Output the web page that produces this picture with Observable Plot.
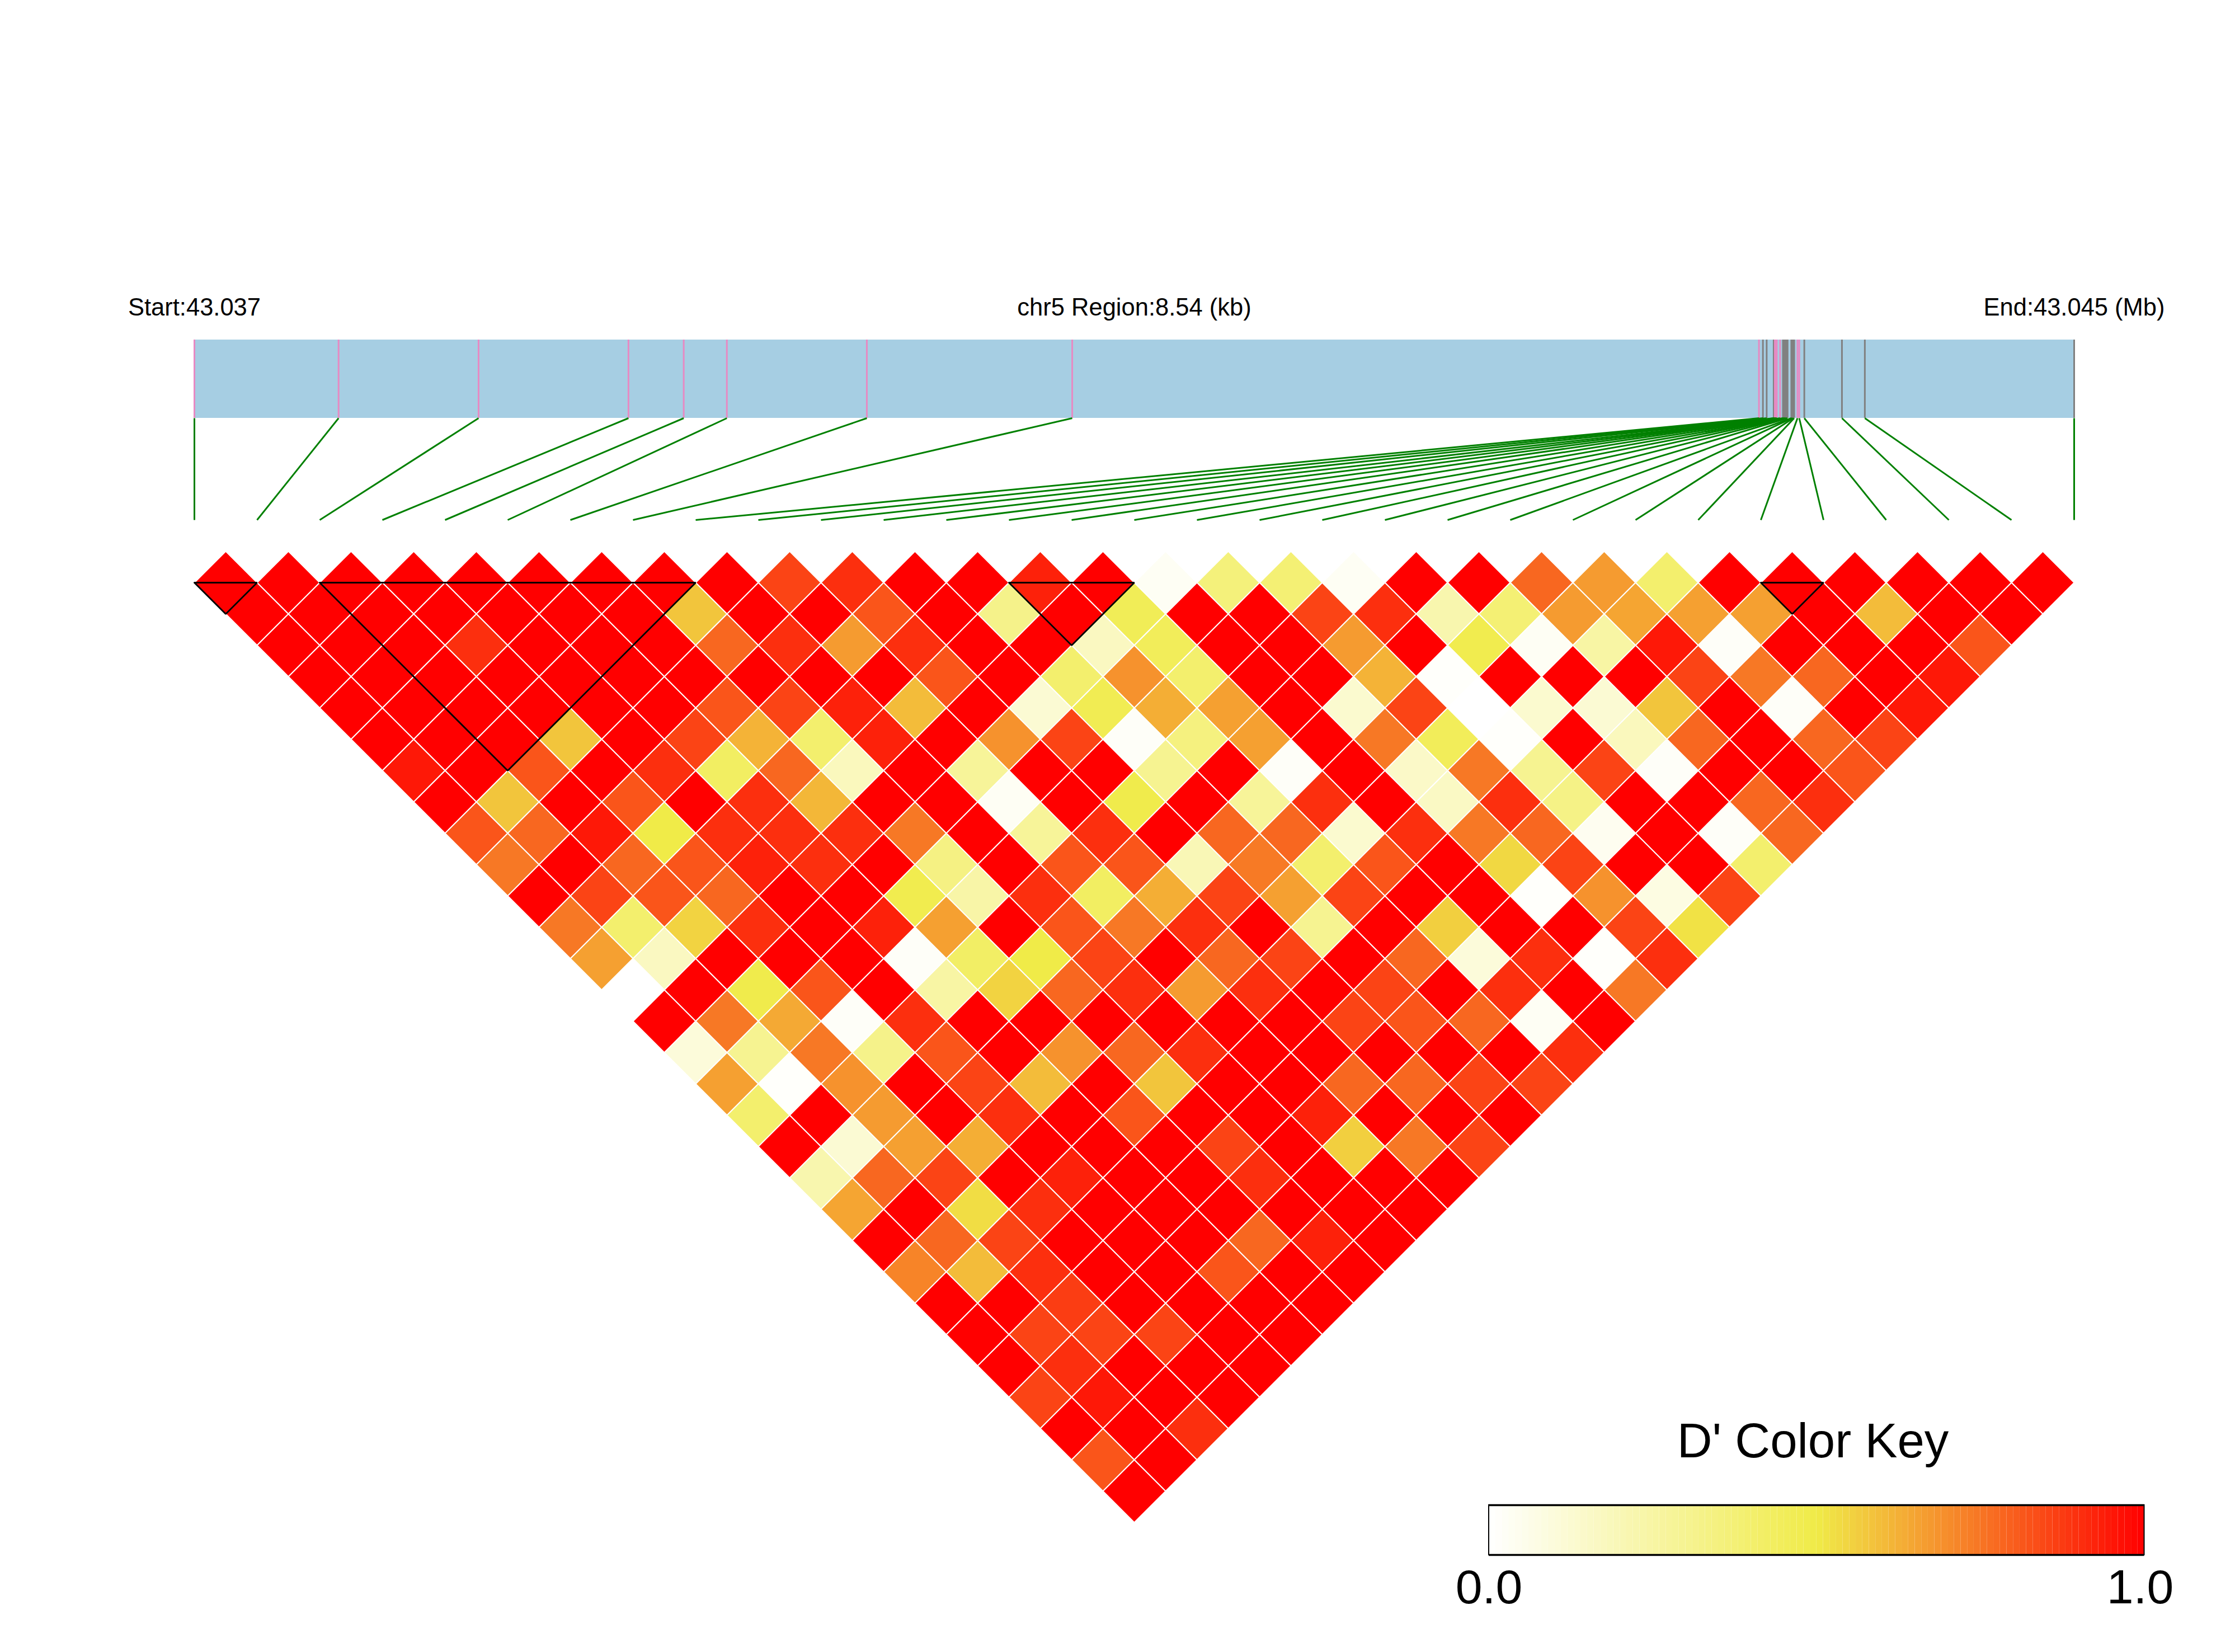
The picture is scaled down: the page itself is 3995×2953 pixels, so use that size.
<!DOCTYPE html>
<html>
<head>
<meta charset="utf-8">
<script src="https://cdn.jsdelivr.net/npm/d3@7/dist/d3.min.js"></script>
<script src="https://cdn.jsdelivr.net/npm/@observablehq/plot@0.6/dist/plot.umd.min.js"></script>
<style>
html,body{margin:0;padding:0;background:#fff;}
svg{display:block;}
</style>
</head>
<body>
<div id="chart"></div>
<script>
// SNP positions along the region, in kb from the start
const regionKb = 8.54;
const snpKb = [0,0.655,1.291,1.972,2.223,2.419,3.055,3.988,7.108,7.126,7.143,7.175,7.180,7.185,7.189,7.204,7.217,7.222,7.227,7.232,7.238,7.255,7.259,7.264,7.268,7.283,7.291,7.314,7.485,7.589,8.54];
const snpClass = ["p","p","p","p","p","p","p","p","p","g","g","g","p","p","p","p","g","g","g","g","g","g","g","g","g","p","p","g","g","g","g"];
const ldBlocks = [[0,1],[2,8],[13,15],[25,26]];
const topLabels = ["Start:43.037","chr5 Region:8.54 (kb)","End:43.045 (Mb)"];
const keyTitle = "D' Color Key";
const keyTicks = ["0.0","1.0"];

// D' by SNP distance: dN[i] is the pair (SNP i, SNP i+N)
const d1 = [1,1,1,1,1,1,1,1,1,.855,.9,1,1,.93,1,.03,.36,.38,.03,1,1,.78,.67,.4,1,1,1,1,1,1];
const d2 = [1,1,1,1,1,1,1,.58,1,1,.82,1,.32,1,.46,1,1,.855,.9,.22,.38,.67,.65,.66,.66,1,.6,1,1];
const d3 = [1,1,1,.9,1,1,1,.78,.9,.67,.9,1,1,.17,.45,1,1,.67,1,.48,.03,.25,.95,.02,1,1,1,.82];
const d4 = [1,1,1,1,1,1,1,1,1,1,.82,1,.4,.69,.4,1,1,.62,.01,1,1,1,.855,.745,.78,1,.95];
const d5 = [1,1,1,1,1,1,.82,.855,.93,.6,1,.12,.47,.63,.66,1,.13,.855,0,.13,.12,.58,1,.02,1,.95];
const d6 = [1,1,1,.58,1,.855,.62,.4,.93,1,.69,.855,.02,.35,.66,1,.745,.45,.01,1,.18,.78,1,.78,.855];
const d7 = [.95,1,.82,1,.9,.43,.78,.18,1,.28,1,1,.3,1,.02,1,.15,.745,.3,.855,.02,1,1,.82];
const d8 = [1,.58,1,.82,1,.9,.61,1,1,.03,1,.49,1,.28,.9,1,.16,.9,.33,1,1,.78,.9];
const d9 = [.82,.78,.95,.5,.9,.9,.9,.745,1,.28,.9,1,.78,.78,.13,.9,.745,.78,.04,1,.02,.78];
const d10 = [.745,1,.78,.82,.93,.9,1,.34,1,.82,.82,.2,.74,.4,.82,1,.54,.855,1,1,.4];
const d11 = [1,.855,.82,.78,1,1,.48,.24,.9,.43,.63,.855,.66,.855,1,1,.01,.69,.08,.855];
const d12 = [.745,.4,.55,.9,1,.93,.66,1,.82,.745,.9,1,.3,1,.56,1,1,.855,.52];
const d13 = [.66,.17,1,1,1,.02,.42,.5,.855,1,.78,.855,1,.78,.1,.9,.01,.9];
const d14 = [0,1,.49,.82,1,.25,.55,.78,.9,.67,.9,1,.855,1,.9,1,.745];
const d15 = [1,.745,.64,.02,.9,1,1,1,1,1,1,.855,.82,.78,.03,1];
const d16 = [.1,.3,.745,.32,.82,1,.69,.78,.9,1,1,1,1,1,.9];
const d17 = [.66,.01,.69,1,.855,.6,1,.58,1,1,.78,.78,.855,.855];
const d18 = [.4,1,.67,1,.9,1,.82,1,1,.93,1,1,1];
const d19 = [1,.12,.66,.63,1,1,1,.855,1,.56,.745,.855];
const d20 = [.22,.78,.855,1,.93,1,1,.9,1,1,1];
const d21 = [.65,1,.53,.9,1,1,1,1,1,1];
const d22 = [1,.78,.855,1,1,1,.78,.93,1];
const d23 = [.72,.6,.9,1,1,.82,1,1];
const d24 = [1,1,.87,1,1,1,1];
const d25 = [1,.855,.855,.855,1,1];
const d26 = [1,.9,1,1,1];
const d27 = [.855,.95,1,1];
const d28 = [1,1,.9];
const d29 = [.82,1];
const d30 = [1];

const byDistance = [d1,d2,d3,d4,d5,d6,d7,d8,d9,d10,d11,d12,d13,d14,d15,d16,d17,d18,d19,d20,d21,d22,d23,d24,d25,d26,d27,d28,d29,d30];
const cells = byDistance.flatMap((row, k) => row.map((v, i) => ({i, j: i + k + 1, v})));

// Layout, in pixels of the page; x is in SNP-index units, y in row units
const W = 3995, H = 2953;
const x0 = 347, x1 = 3707, rowTop = 1041, rowStep = 56;
const yOf = (px) => 1 + (px - rowTop) / rowStep;
const xOf = (px) => (px - x0) / ((x1 - x0) / 30);
const kbToIndex = (kb) => kb * 30 / regionKb;

const snps = snpKb.map((kb, idx) => ({idx, pos: kbToIndex(kb), cls: snpClass[idx]}));

const diamond = {
  draw(ctx, size) {
    const r = Math.sqrt(size / Math.PI);
    ctx.moveTo(0, -r); ctx.lineTo(r, 0); ctx.lineTo(0, r); ctx.lineTo(-r, 0); ctx.closePath();
  }
};

const blockOutline = ldBlocks.flatMap(([a, b], n) => [
  {n, x: a, y: 1}, {n, x: b, y: 1}, {n, x: (a + b) / 2, y: 1 + b - a}, {n, x: a, y: 1}
]);

const keyX0 = xOf(2661), keyX1 = xOf(3832.5);
const keySteps = 100;
const keyBands = Array.from({length: keySteps}, (_, k) => ({
  v: (k + 0.5) / keySteps,
  a: keyX0 + (keyX1 - keyX0) * k / keySteps,
  b: keyX0 + (keyX1 - keyX0) * (k + 1) / keySteps
}));

const font = "'Liberation Sans', Arial, sans-serif";
const labelY = yOf(563);
const labelRows = [
  {t: topLabels[0], x: 0},
  {t: topLabels[1], x: 15},
  {t: topLabels[2], x: 30}
];

const chart = Plot.plot({
  width: W, height: H,
  margin: 0,
  style: {background: "#fff", fontFamily: font},
  x: {domain: [0, 30], range: [x0, x1], axis: null},
  y: {domain: [1, 30], range: [rowTop, rowTop + 29 * rowStep], axis: null},
  color: {type: "linear", domain: [0, 0.5, 1], range: ["#FFFFFF", "#F0EB48", "#FF0000"], interpolate: "rgb"},
  marks: [
    Plot.text(labelRows, {x: "x", y: () => labelY, text: "t", fontSize: 43.5, fill: "#000", lineAnchor: "bottom", textAnchor: "middle", fontFamily: font}),
    Plot.rect([{}], {x1: 0, x2: 30, y1: yOf(607), y2: yOf(747), fill: "#A6CEE3"}),
    Plot.ruleX(snps, {x: "pos", y1: yOf(607), y2: yOf(747), stroke: d => d.cls === "p" ? "#E78AC3" : "#808080", strokeWidth: 3}),
    Plot.link(snps, {x1: "pos", x2: "idx", y1: yOf(747), y2: yOf(929), stroke: "#008000", strokeWidth: 3}),
    Plot.dot(cells, {x: d => (d.i + d.j) / 2, y: d => d.j - d.i, r: rowStep, symbol: diamond, fill: "v", stroke: "#fff", strokeWidth: 2}),
    Plot.line(blockOutline, {x: "x", y: "y", z: "n", stroke: "#000", strokeWidth: 3, strokeLinejoin: "miter"}),
    Plot.text([keyTitle], {x: xOf(3240), y: yOf(2604), text: d => d, fontSize: 87, fill: "#000", lineAnchor: "bottom", textAnchor: "middle", fontFamily: font}),
    Plot.rect(keyBands, {x1: "a", x2: "b", y1: yOf(2690), y2: yOf(2779), fill: "v"}),
    Plot.rect([{}], {x1: keyX0, x2: keyX1, y1: yOf(2690), y2: yOf(2779), fill: "none", stroke: "#000", strokeWidth: 2}),
    Plot.ruleY([yOf(2690), yOf(2779)], {x1: keyX0, x2: keyX1, stroke: "#000", strokeWidth: 3.5}),
    Plot.text([{t: keyTicks[0], x: keyX0}, {t: keyTicks[1], x: xOf(3825)}], {x: "x", y: () => yOf(2865), text: "t", fontSize: 86, fill: "#000", lineAnchor: "bottom", textAnchor: "middle", fontFamily: font})
  ]
});
document.getElementById("chart").appendChild(chart);
</script>
</body>
</html>
